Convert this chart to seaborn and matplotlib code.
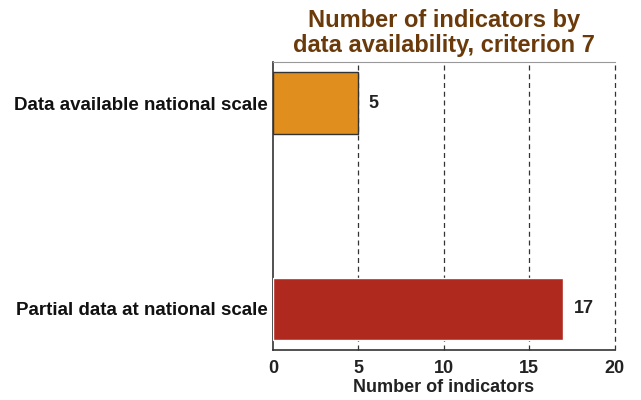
import matplotlib
matplotlib.use("Agg")
import matplotlib.pyplot as plt
import seaborn as sns
import pandas as pd

categories = ["Data available national scale", "Partial data at national scale"]
counts = [5, 17]
bar_colors = ["#E08E1E", "#B0291E"]

sns.set_style("white")
plt.rcParams["font.family"] = ["Liberation Sans", "DejaVu Sans"]
plt.rcParams["font.weight"] = "bold"

df = pd.DataFrame({"category": categories, "count": counts})

fig = plt.figure(figsize=(6.41, 4.0), dpi=100)
ax = fig.add_axes([0.426, 0.125, 0.533, 0.72])

sns.barplot(data=df, x="count", y="category", hue="category", palette=bar_colors,
            width=0.30, saturation=1, legend=False, ax=ax, zorder=3)
ax.patches[0].set_edgecolor("#333333")
ax.patches[0].set_linewidth(1.0)

for i, v in enumerate(counts):
    ax.text(v + 0.6, i, str(v), va="center", ha="left", fontsize=13,
            fontweight="bold", color="#222222")

ax.set_xlim(0, 20)
ax.set_ylim(1.2, -0.2)
ax.set_xticks([0, 5, 10, 15, 20])
ax.tick_params(axis="x", direction="out", length=5, width=1, labelsize=13, colors="#222222", pad=2)
ax.tick_params(axis="y", length=0, labelsize=13.5, labelcolor="#111111", pad=4)
for lbl in ax.get_xticklabels() + ax.get_yticklabels():
    lbl.set_fontweight("bold")
for x in [5, 10, 15, 20]:
    ax.axvline(x, color="#333333", linestyle=(0, (4, 3)), linewidth=0.9, zorder=1, clip_on=False)

ax.spines["left"].set_color("#333333")
ax.spines["bottom"].set_color("#333333")
ax.spines["top"].set_color("#999999")
ax.spines["right"].set_visible(False)
ax.spines["left"].set_linewidth(1.2)
ax.spines["bottom"].set_linewidth(1.2)

ax.set_xlabel("Number of indicators", fontsize=13, fontweight="bold", color="#222222", labelpad=2)
ax.set_ylabel("")
ax.set_title("Number of indicators by\ndata availability, criterion 7", fontsize=17,
             fontweight="bold", color="#6B3A0A", linespacing=1.1, pad=7)

fig.savefig("out.png", dpi=100)
